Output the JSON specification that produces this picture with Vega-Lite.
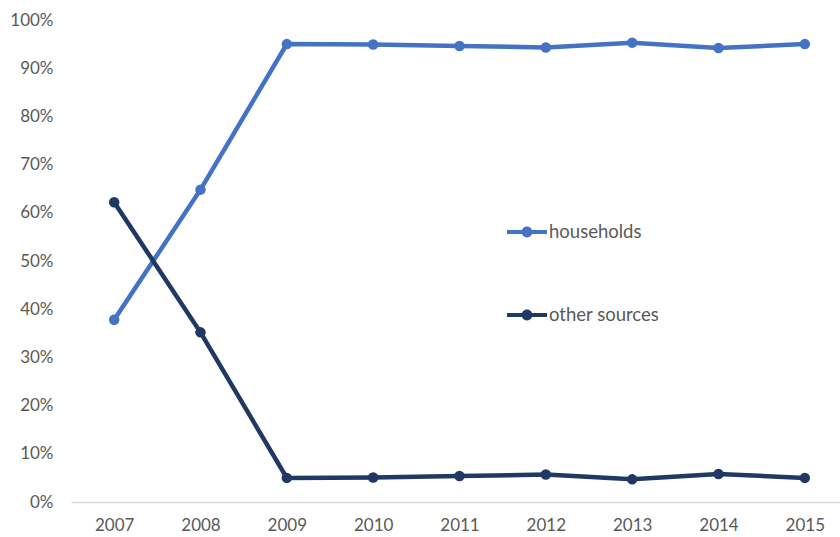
{
  "$schema": "https://vega.github.io/schema/vega-lite/v6.json",
  "autosize": "none",
  "width": 777,
  "height": 482,
  "padding": {"left": 71, "top": 20, "right": 0, "bottom": 35},
  "config": {
    "view": {"stroke": null},
    "font": "Lato"
  },
  "data": {
    "values": [
      {"year": "2007", "series": "households", "share": 0.378},
      {"year": "2008", "series": "households", "share": 0.648},
      {"year": "2009", "series": "households", "share": 0.950},
      {"year": "2010", "series": "households", "share": 0.949},
      {"year": "2011", "series": "households", "share": 0.946},
      {"year": "2012", "series": "households", "share": 0.943},
      {"year": "2013", "series": "households", "share": 0.953},
      {"year": "2014", "series": "households", "share": 0.942},
      {"year": "2015", "series": "households", "share": 0.950},
      {"year": "2007", "series": "other sources", "share": 0.622},
      {"year": "2008", "series": "other sources", "share": 0.352},
      {"year": "2009", "series": "other sources", "share": 0.050},
      {"year": "2010", "series": "other sources", "share": 0.051},
      {"year": "2011", "series": "other sources", "share": 0.054},
      {"year": "2012", "series": "other sources", "share": 0.057},
      {"year": "2013", "series": "other sources", "share": 0.047},
      {"year": "2014", "series": "other sources", "share": 0.058},
      {"year": "2015", "series": "other sources", "share": 0.050}
    ]
  },
  "mark": {"type": "line", "strokeWidth": 4.5, "point": {"size": 110, "filled": true, "opacity": 1}},
  "encoding": {
    "x": {
      "field": "year",
      "type": "ordinal",
      "scale": {"type": "point", "padding": 0.5},
      "axis": {
        "title": null,
        "labelAngle": 0,
        "ticks": false,
        "domainColor": "#d9d9d9",
        "domainWidth": 1.5,
        "labelColor": "#595959",
        "labelFontSize": 17,
        "labelPadding": 15,
        "grid": false
      }
    },
    "y": {
      "field": "share",
      "type": "quantitative",
      "scale": {"domain": [0, 1], "nice": false},
      "axis": {
        "title": null,
        "format": ".0%",
        "values": [0, 0.1, 0.2, 0.3, 0.4, 0.5, 0.6, 0.7, 0.8, 0.9, 1],
        "ticks": false,
        "domain": false,
        "grid": false,
        "labelColor": "#595959",
        "labelFontSize": 17,
        "labelPadding": 18
      }
    },
    "color": {
      "field": "series",
      "type": "nominal",
      "scale": {"domain": ["households", "other sources"], "range": ["#4472C4", "#1F3864"]},
      "legend": {
        "title": null,
        "orient": "none",
        "legendX": 436,
        "legendY": 192,
        "symbolType": "M-1,-0.1H1V0.1H-1Z M0.27,0 A0.27,0.27 0 1,1 -0.27,0 A0.27,0.27 0 1,1 0.27,0 Z",
        "symbolSize": 1600,
        "symbolStrokeWidth": 0,
        "symbolOpacity": 1,
        "labelFontSize": 18.5,
        "labelColor": "#595959",
        "labelOffset": 2,
        "rowPadding": 53
      }
    }
  }
}
